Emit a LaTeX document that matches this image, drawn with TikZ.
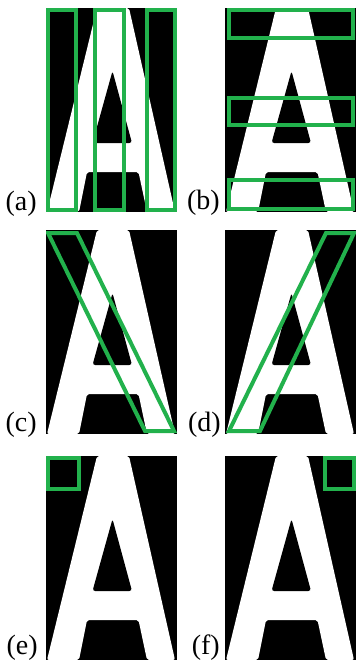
\documentclass[tikz,border=0pt]{standalone}
\usepackage{fontspec}
\setmainfont{Liberation Serif}
\definecolor{boxgreen}{RGB}{34,177,76}
\begin{document}
\begin{tikzpicture}[x=0.75pt,y=-0.75pt,
  boxline/.style={draw=boxgreen,line width=3pt},
  lab/.style={anchor=base east,inner sep=0pt,font=\fontsize{21}{25}\selectfont},
  letterA/.pic={
    \fill[black] (0,0) rectangle (131,204);
    \fill[white,rounded corners=1.5pt] (51,0) -- (83,0) -- (129,204) -- (101,204) -- (92.5,164) -- (41,164) -- (33,204) -- (1,204) -- cycle;
    \fill[black,rounded corners=2pt] (66.5,63) -- (86,135) -- (46.5,135) -- cycle;
  }]
\useasboundingbox (0,0) rectangle (356,661);
% panels
\pic at (46,8) {letterA};
\pic at (225,8) {letterA};
\pic at (46,230) {letterA};
\pic at (225,230) {letterA};
\pic at (46,456) {letterA};
\pic at (225,456) {letterA};
% (a) vertical strips
\begin{scope}
  \clip (46,8) rectangle (177,212);
  \draw[boxline] (48,10) rectangle (76,210);
  \draw[boxline] (95,10) rectangle (124,210);
  \draw[boxline] (147,10) rectangle (175,210);
\end{scope}
% (b) horizontal strips
\begin{scope}
  \clip (225,8) rectangle (356,212);
  \draw[boxline] (229,10) rectangle (353,38);
  \draw[boxline] (229,98) rectangle (353,125);
  \draw[boxline] (229,180) rectangle (353,209);
\end{scope}
% (c) diagonal
\begin{scope}
  \clip (46,230) rectangle (177,434);
  \draw[boxline] (48,233) -- (77,233) -- (174,431) -- (145,431) -- cycle;
\end{scope}
% (d) diagonal
\begin{scope}
  \clip (225,230) rectangle (356,434);
  \draw[boxline] (326,233) -- (354,233) -- (260,431) -- (229,431) -- cycle;
\end{scope}
% (e), (f) small squares
\begin{scope}
  \clip (46,456) rectangle (177,660);
  \draw[boxline] (48,458) rectangle (79,489);
\end{scope}
\begin{scope}
  \clip (225,456) rectangle (356,660);
  \draw[boxline] (325,458) rectangle (354,489);
\end{scope}
% labels
\node[lab] (la) at (37,210) {(a)};
\node[lab] (lb) at (220,209) {(b)};
\node[lab] (lc) at (37,431) {(c)};
\node[lab] (ld) at (221,431) {(d)};
\node[lab] (le) at (38,654) {(e)};
\node[lab] (lf) at (220,654) {(f)};
\end{tikzpicture}
\end{document}
